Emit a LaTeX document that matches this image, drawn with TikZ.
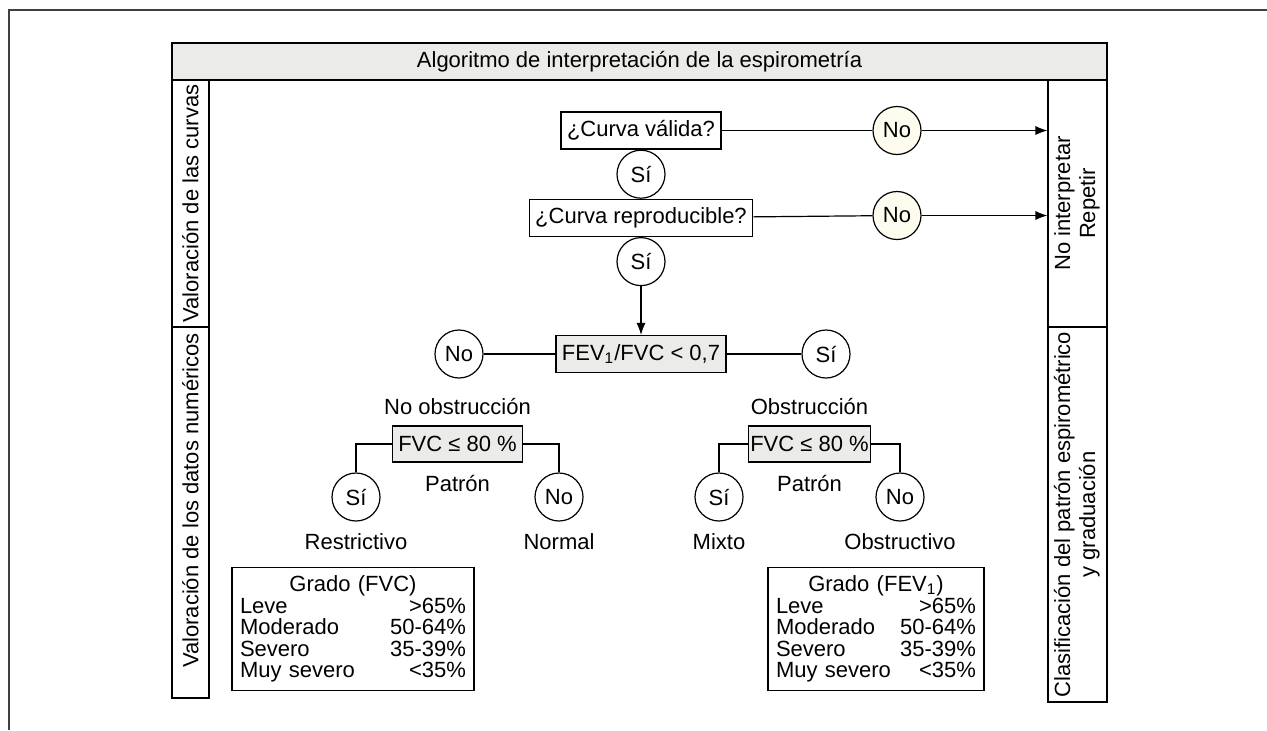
\documentclass[tikz,border=0pt]{standalone}
\usepackage{fontspec}
\setmainfont{Liberation Sans}
\usepackage{xcolor}
\usepackage{tikz}
\usetikzlibrary{positioning, arrows.meta}
\definecolor{boxgray}{RGB}{235,235,233}
\definecolor{cream}{RGB}{253,252,238}

\begin{document}
\begin{tikzpicture}[x=0.5pt, y=-0.5pt, node distance=0pt, line width=0.6pt,
    font=\fontsize{11}{12.5}\selectfont,
    >={Latex[length=6pt,width=4.6pt]},
    box/.style={draw, rectangle, inner xsep=3pt, minimum height=18.5pt},
    graybox/.style={box, fill=boxgray},
    circ/.style={draw, circle, minimum size=24pt, inner sep=0pt},
    col/.style={draw, rectangle, inner sep=0pt},
    txt/.style={inner sep=1.5pt},
    grado/.style={draw, rectangle, align=left, inner xsep=4pt, inner ysep=4pt,
        font=\fontsize{11}{10.75}\selectfont}]
    \useasboundingbox (0,0) rectangle (1267,730);
    \draw[line width=0.8pt, black!75] (9,730) -- (9,10) -- (1267,10);

    \node[graybox, minimum width=467.5pt] (titulo) at (639.5,61.5) {Algoritmo de interpretación de la espirometría};
    \node[col, minimum width=18.5pt, minimum height=123.5pt] (curvas) at (190.5,203.5) {\rotatebox{90}{Valoración de las curvas}};
    \node[col, minimum width=18.5pt, minimum height=185.5pt] (datos) at (190.5,512.5) {\rotatebox{90}{\hspace*{12pt}Valoración de los datos numéricos}};
    \node[col, minimum width=29.5pt, minimum height=123.5pt] (repetir) at (1077.5,203.5) {\rotatebox{90}{\begin{tabular}{@{}c@{}}No interpretar\\Repetir\end{tabular}}};
    \node[col, minimum width=29.5pt, minimum height=187.5pt] (clasif) at (1077.5,514.5) {\rotatebox{90}{\begin{tabular}{@{}c@{}}Clasificación del patrón espirométrico\\y graduación\end{tabular}}};

    \node[box] (valida) at (641,130.5) {¿Curva válida?};
    \node[circ, below=of valida] (si1) {Sí};
    \node[box, below=of si1] (reprod) {¿Curva reproducible?};
    \node[circ, below=of reprod] (si2) {Sí};
    \node[circ, fill=cream] (no1) at (897,130.5) {No};
    \node[circ, fill=cream] (no2) at (897,215.5) {No};

    \draw (valida) -- (no1);
    \draw[->] (no1) -- (no1 -| repetir.west);
    \draw (reprod) -- (no2);
    \draw[->] (no2) -- (no2 -| repetir.west);

    \node[graybox] (cociente) at (641,354) {FEV\textsubscript{1}/FVC < 0,7};
    \node[circ] (noF) at (459,354) {No};
    \node[circ] (siF) at (826,354) {Sí};
    \draw[->] (si2) -- (cociente);
    \draw (cociente) -- (noF);
    \draw (cociente) -- (siF);

    \node[graybox, minimum width=64.5pt, minimum height=18pt] (fvcI) at (457.5,444) {FVC ≤ 80 \%};
    \node[graybox, inner xsep=1pt, minimum height=18pt] (fvcD) at (809.5,444) {FVC ≤ 80 \%};
    \node[txt, above=3.5pt of fvcI] (noobs) {No obstrucción};
    \node[txt, above=3.5pt of fvcD] (obs) {Obstrucción};
    \node[txt, below=4.5pt of fvcI] (patronI) {Patrón};
    \node[txt, below=4.5pt of fvcD] (patronD) {Patrón};

    \node[circ] (siI) at (356,497) {Sí};
    \node[circ] (noI) at (559,497) {No};
    \node[circ] (siD) at (719,497) {Sí};
    \node[circ] (noD) at (900,497) {No};
    \draw (fvcI) -| (siI);
    \draw (fvcI) -| (noI);
    \draw (fvcD) -| (siD);
    \draw (fvcD) -| (noD);

    \node[txt, below=4pt of siI] (restr) {Restrictivo};
    \node[txt, below=4pt of noI] (normal) {Normal};
    \node[txt, below=4pt of siD] (mixto) {Mixto};
    \node[txt, below=4pt of noD] (obstr) {Obstructivo};

    \node[grado, text width=113pt, anchor=north] (gradoI) at (353,567) {\makebox[113pt]{Grado (FVC)}\\Leve\hfill >65\%\\Moderado\hfill 50-64\%\\Severo\hfill 35-39\%\\Muy severo\hfill <35\%};
    \node[grado, text width=100pt, anchor=north] (gradoD) at (876,567) {\makebox[100pt]{Grado (FEV\textsubscript{1})}\\Leve\hfill >65\%\\Moderado\hfill 50-64\%\\Severo\hfill 35-39\%\\Muy severo\hfill <35\%};
\end{tikzpicture}
\end{document}
